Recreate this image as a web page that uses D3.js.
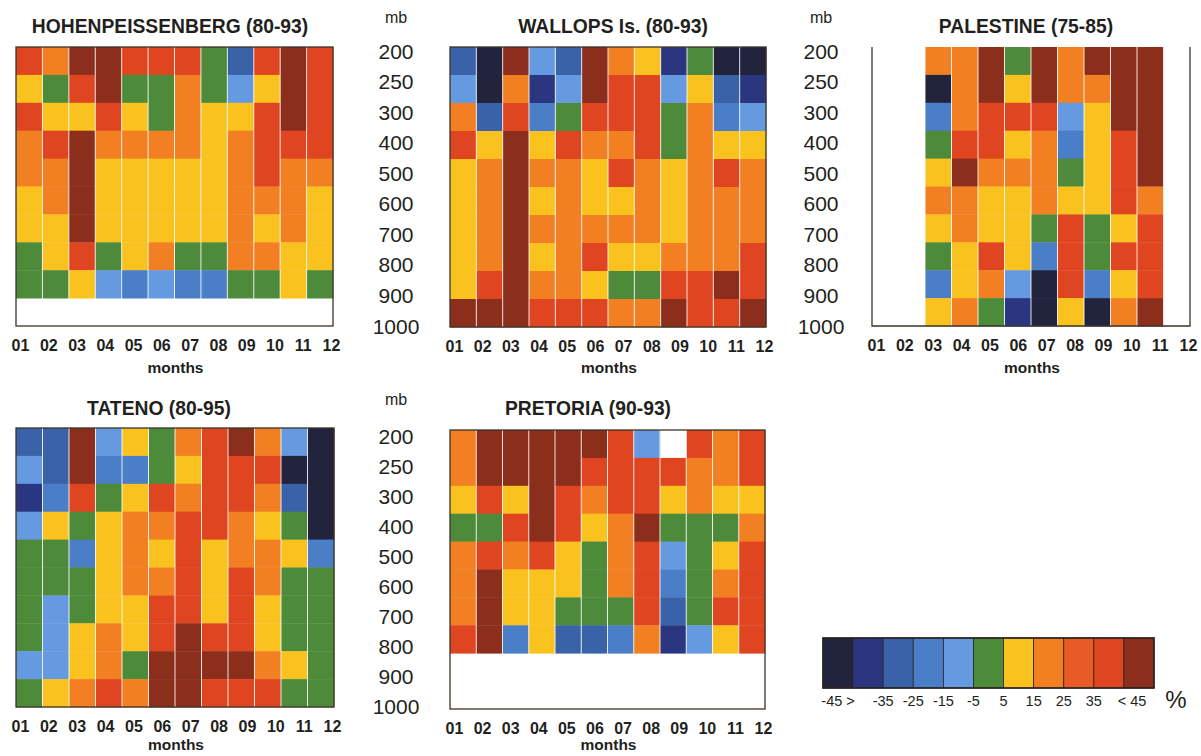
<!DOCTYPE html>
<html>
<head>
<meta charset="utf-8">
<script src="https://cdn.jsdelivr.net/npm/d3@7"></script>
<style>
  html, body { margin: 0; padding: 0; background: #fff; }
  svg { display: block; font-family: "Liberation Sans", Arial, Helvetica, sans-serif; }
</style>
</head>
<body>
<script>
// Pressure levels (mb) and months shared by every station grid
const levels = ["200", "250", "300", "400", "500", "600", "700", "800", "900", "1000"];
const months = ["01", "02", "03", "04", "05", "06", "07", "08", "09", "10", "11", "12"];

// Legend class boundaries (%) and their labels
const classBreaks = [-45, -35, -25, -15, -5, 5, 15, 25, 35, 45];
const legendLabels = ["-45 >", "-35", "-25", "-15", "-5", "5", "15", "25", "35", "< 45"];

// Percent deviation per level (rows, 200 -> 1000 mb) and month (columns); null = no data
const hohenpeissenberg = [
  [40, 20, 50, 50, 40, 40, 40, 0, -30, 40, 50, 40],
  [10, 0, 40, 50, 0, 0, 20, 0, -10, 10, 50, 40],
  [40, 10, 10, 40, 10, 0, 20, 10, 10, 40, 50, 40],
  [20, 40, 50, 20, 20, 20, 20, 10, 20, 40, 40, 40],
  [20, 20, 50, 10, 10, 10, 10, 10, 20, 40, 20, 20],
  [10, 20, 50, 10, 10, 10, 10, 10, 20, 20, 20, 10],
  [10, 10, 50, 10, 10, 10, 10, 10, 20, 10, 20, 10],
  [0, 10, 40, 0, 10, 20, 0, 0, 20, 20, 10, 10],
  [0, 0, 10, -10, -20, -10, -20, -20, 0, 0, 10, 0],
  [null, null, null, null, null, null, null, null, null, null, null, null]
];

const wallops = [
  [-30, -50, 50, -10, -30, 50, 20, 10, -40, 0, -50, -50],
  [-10, -50, 20, -40, -10, 50, 40, 40, -10, 10, -30, -40],
  [20, -30, 40, -20, 0, 40, 40, 40, 0, 20, -20, -10],
  [40, 10, 50, 10, 40, 20, 20, 40, 0, 20, 10, 10],
  [10, 20, 50, 20, 20, 10, 40, 20, 10, 20, 40, 20],
  [10, 20, 50, 10, 20, 10, 10, 20, 10, 20, 20, 20],
  [10, 20, 50, 20, 20, 20, 20, 20, 10, 20, 20, 20],
  [10, 20, 50, 10, 20, 40, 10, 10, 20, 20, 20, 40],
  [10, 40, 50, 20, 20, 10, 0, 0, 40, 40, 50, 40],
  [50, 50, 50, 40, 40, 40, 20, 20, 50, 40, 40, 50]
];

const palestine = [
  [null, null, 20, 20, 50, 0, 50, 20, 50, 50, 50, null],
  [null, null, -50, 20, 50, 10, 50, 20, 20, 50, 50, null],
  [null, null, -20, 20, 40, 40, 40, -10, 10, 50, 50, null],
  [null, null, 0, 40, 40, 10, 20, -20, 10, 40, 50, null],
  [null, null, 10, 50, 20, 20, 20, 0, 10, 40, 50, null],
  [null, null, 20, 20, 10, 10, 20, 10, 10, 40, 20, null],
  [null, null, 10, 20, 10, 10, 0, 40, 0, 10, 40, null],
  [null, null, 0, 10, 40, 10, -20, 40, 0, 40, 40, null],
  [null, null, -20, 10, 20, -10, -50, 40, -20, 10, 40, null],
  [null, null, 10, 20, 0, -40, -50, 10, -50, 20, 50, null]
];

const tateno = [
  [-30, -30, 50, -10, 10, 0, 20, 40, 50, 20, -10, -50],
  [-10, -30, 50, -20, -20, 0, 10, 40, 40, 40, -50, -50],
  [-40, -20, 40, 0, 10, 40, 20, 40, 40, 20, -30, -50],
  [-10, 10, 0, 10, 20, 20, 40, 40, 20, 10, 0, -50],
  [0, 0, -20, 10, 20, 10, 40, 10, 20, 20, 10, -20],
  [0, 0, 0, 10, 20, 20, 40, 10, 40, 20, 0, 0],
  [0, -10, 0, 10, 10, 40, 40, 10, 40, 10, 0, 0],
  [0, -10, 10, 20, 10, 40, 50, 40, 40, 10, 0, 0],
  [-10, -10, 10, 20, 0, 50, 50, 50, 50, 20, 10, 0],
  [0, 10, 20, 40, 20, 50, 50, 40, 40, 40, 0, 0]
];

const pretoria = [
  [20, 50, 50, 50, 50, 50, 40, -10, null, 40, 20, 40],
  [20, 50, 50, 50, 50, 40, 40, 40, 40, 20, 20, 40],
  [10, 40, 10, 50, 40, 20, 40, 40, 10, 20, 10, 10],
  [0, 0, 40, 50, 40, 10, 20, 50, 0, 0, 0, 20],
  [20, 40, 20, 40, 10, 0, 20, 40, -10, 0, 10, 40],
  [20, 50, 10, 10, 10, 0, 20, 40, -20, 0, 20, 40],
  [20, 50, 10, 10, 0, 0, 0, 40, -30, 0, 40, 40],
  [40, 50, -20, 10, -30, -30, -20, 20, -40, -10, 10, 40],
  [null, null, null, null, null, null, null, null, null, null, null, null],
  [null, null, null, null, null, null, null, null, null, null, null, null]
];

// ---- styling and layout ----
const palette = ["#22243e", "#2b3680", "#3a62a9", "#4a7ec6", "#659ae0", "#4d8b3b",
                 "#f9c21f", "#f27f22", "#e95b24", "#df4520", "#8b2e1c"];
const color = d3.scaleThreshold().domain(classBreaks).range(palette);
const ink = "#231f1c";

const panels = [
  { title: "HOHENPEISSENBERG (80-93)", data: hohenpeissenberg, x0: 16, x1: 333, y0: 47, y1: 326, tx: 170, ty: 33, my: 373, frame: "full" },
  { title: "WALLOPS Is. (80-93)", data: wallops, x0: 450, x1: 766, y0: 47, y1: 327, tx: 613, ty: 33, my: 373, frame: "full" },
  { title: "PALESTINE (75-85)", data: palestine, x0: 872, x1: 1190, y0: 47, y1: 326, tx: 1026, ty: 33, my: 373, frame: "open" },
  { title: "TATENO (80-95)", data: tateno, x0: 16, x1: 334, y0: 428, y1: 707, tx: 159, ty: 415, my: 750, frame: "full" },
  { title: "PRETORIA (90-93)", data: pretoria, x0: 450, x1: 765, y0: 430, y1: 709, tx: 588, ty: 415, my: 750, frame: "full" }
];

// Shared pressure-label columns between the grids
const levelAxes = [
  { cx: 396, top: 50.5, bottom: 325.5, mbY: 23 },
  { cx: 821, top: 50.5, bottom: 325.5, mbY: 23 },
  { cx: 396, top: 435.5, bottom: 706, mbY: 405 }
];

const W = 1201, H = 756;
const svg = d3.select("body").append("svg").attr("width", W).attr("height", H);
svg.append("rect").attr("width", W).attr("height", H).attr("fill", "#fff");

panels.forEach(p => {
  const g = svg.append("g");
  const x = d3.scaleBand().domain(months).range([p.x0, p.x1]);
  const y = d3.scaleBand().domain(levels).range([p.y0, p.y1]);

  const cells = p.data.flatMap((row, i) =>
    row.map((v, j) => ({ level: levels[i], month: months[j], v }))
  ).filter(d => d.v !== null);

  g.selectAll("rect.cell").data(cells).join("rect")
    .attr("class", "cell")
    .attr("x", d => x(d.month))
    .attr("y", d => y(d.level))
    .attr("width", x.bandwidth() + 0.4)
    .attr("height", y.bandwidth() + 0.4)
    .attr("fill", d => color(d.v));

  // thin white rules between the month columns
  g.selectAll("line.sep").data(months.slice(1)).join("line")
    .attr("class", "sep")
    .attr("x1", d => x(d)).attr("x2", d => x(d))
    .attr("y1", p.y0).attr("y2", p.y1)
    .attr("stroke", "#fff").attr("stroke-opacity", 0.85).attr("stroke-width", 1);

  if (p.frame === "full") {
    g.append("rect")
      .attr("x", p.x0).attr("y", p.y0)
      .attr("width", p.x1 - p.x0).attr("height", p.y1 - p.y0)
      .attr("fill", "none").attr("stroke", "#3b3428").attr("stroke-width", 1.3);
  } else {
    g.append("path")
      .attr("d", `M${p.x0},${p.y0} V${p.y1} H${p.x1} V${p.y0}`)
      .attr("fill", "none").attr("stroke", "#3b3428").attr("stroke-width", 1.3);
  }

  // title
  g.append("text")
    .attr("x", p.tx).attr("y", p.ty)
    .attr("text-anchor", "middle")
    .attr("font-weight", "bold").attr("font-size", 19.3).attr("fill", ink)
    .text(p.title);

  // month labels
  const mx = d3.scalePoint().domain(months).range([p.x0 + 4, p.x1 - 2]);
  const ax = g.append("g")
    .attr("transform", `translate(0,${p.y1 + 14})`)
    .call(d3.axisBottom(mx).tickSize(0).tickPadding(0));
  ax.select(".domain").remove();
  ax.selectAll("text")
    .attr("font-family", "Liberation Sans, Arial, sans-serif")
    .attr("font-weight", "bold").attr("font-size", 16).attr("fill", ink);

  g.append("text")
    .attr("x", (p.x0 + p.x1) / 2 + 1).attr("y", p.my)
    .attr("text-anchor", "middle")
    .attr("font-weight", "bold").attr("font-size", 15.5).attr("fill", ink)
    .text("months");
});

// pressure level labels
levelAxes.forEach(a => {
  const ly = d3.scalePoint().domain(levels).range([a.top, a.bottom]);
  const ag = svg.append("g")
    .attr("transform", `translate(${a.cx},0)`)
    .call(d3.axisRight(ly).tickSize(0).tickPadding(0));
  ag.select(".domain").remove();
  ag.selectAll("text")
    .attr("x", 0).attr("dy", "0.36em")
    .attr("text-anchor", "middle")
    .attr("font-family", "Liberation Sans, Arial, sans-serif")
    .attr("font-size", 21).attr("fill", ink);
  svg.append("text")
    .attr("x", a.cx).attr("y", a.mbY)
    .attr("text-anchor", "middle")
    .attr("font-size", 16).attr("fill", ink)
    .text("mb");
});

// colour legend
const lg = svg.append("g");
const lx = d3.scaleBand().domain(d3.range(palette.length)).range([823, 1154]);
const ly0 = 638, lh = 50;
lg.selectAll("rect.box").data(palette).join("rect")
  .attr("class", "box")
  .attr("x", (d, i) => lx(i)).attr("y", ly0)
  .attr("width", lx.bandwidth()).attr("height", lh)
  .attr("fill", d => d)
  .attr("stroke", "#2e2620").attr("stroke-width", 0.8);
lg.append("rect")
  .attr("x", 823).attr("y", ly0).attr("width", 1154 - 823).attr("height", lh)
  .attr("fill", "none").attr("stroke", "#2a221c").attr("stroke-width", 1.6);

const bw = lx.bandwidth();
const labelX = i => {
  if (i === 0) return lx(0) + bw / 2;
  if (i === legendLabels.length - 1) return lx(10) + bw / 2 - 7;
  return lx(i + 1);
};
lg.selectAll("text.lab").data(legendLabels).join("text")
  .attr("class", "lab")
  .attr("x", (d, i) => labelX(i)).attr("y", 706)
  .attr("text-anchor", "middle")
  .attr("font-size", 14.5).attr("fill", ink)
  .text(d => d);
lg.append("text")
  .attr("x", 1176).attr("y", 708)
  .attr("text-anchor", "middle")
  .attr("font-size", 24).attr("fill", ink)
  .text("%");
</script>
</body>
</html>
